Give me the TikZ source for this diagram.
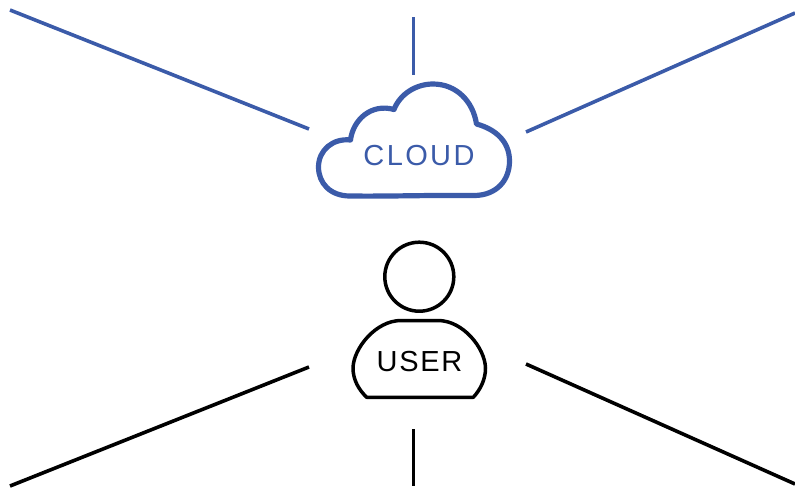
\documentclass[tikz,border=0pt]{standalone}
\usepackage{fontspec}
\setmainfont{Liberation Sans}
\newfontfamily\cloudfont[LetterSpace=8.2]{Liberation Sans}
\newfontfamily\userfont[LetterSpace=5.9]{Liberation Sans}
\definecolor{cloudblue}{HTML}{3B5BA9}
\tikzset{
  bluelink/.style={draw=cloudblue,line width=3.6pt},
  blacklink/.style={draw=black,line width=3.6pt},
  iconblue/.style={draw=cloudblue,line width=5.2pt,line join=round},
  iconblack/.style={draw=black,line width=3.5pt,line join=round},
  lab/.style={inner sep=0pt,anchor=center}
}
\begin{document}
\begin{tikzpicture}[x=1pt,y=-1pt]
\useasboundingbox (0,0) rectangle (795,488);
% free ends
\coordinate (tlA) at (10,10);   \coordinate (tlB) at (309,129);
\coordinate (tmA) at (413.5,17);  \coordinate (tmB) at (413.5,75);
\coordinate (trA) at (795,13);  \coordinate (trB) at (526,132);
\coordinate (blA) at (10,486);  \coordinate (blB) at (309,367);
\coordinate (bmA) at (413.5,429); \coordinate (bmB) at (413.5,486);
\coordinate (brA) at (795,484); \coordinate (brB) at (526,364);
\draw[bluelink] (tlA) -- (tlB);
\draw[bluelink] (tmA) -- (tmB);
\draw[bluelink] (trA) -- (trB);
\draw[blacklink] (blA) -- (blB);
\draw[blacklink] (bmA) -- (bmB);
\draw[blacklink] (brA) -- (brB);
% cloud
\draw[iconblue] (350,196)
  .. controls (330,196) and (318.5,183) .. (318.5,167)
  .. controls (318.5,150) and (333,138) .. (350.5,140)
  .. controls (353,120) and (371,103) .. (394,109.5)
  .. controls (400,94) and (416,84) .. (433,84)
  .. controls (456,84) and (473,101) .. (476.5,124)
  .. controls (495,129) and (509.5,141) .. (509.5,161)
  .. controls (509.5,181) and (496,195) .. (475,195.5)
  .. controls (430,195) and (390,196.5) .. (350,196) -- cycle;
\node[lab,text=cloudblue,font=\cloudfont\fontsize{29}{29}\selectfont] (cloud) at (419,156) {CLOUD};
% user
\node[circle,draw=black,line width=3.5pt,minimum size=69pt,inner sep=0pt] (head) at (419.3,276.7) {};
\draw[iconblack] (366.7,397.3) -- (473.3,397.3)
  .. controls (480,390) and (485.5,380) .. (485.5,368)
  .. controls (485,348) and (463,320.5) .. (438,320.5)
  -- (401,320.5)
  .. controls (376,320.5) and (353.5,348) .. (353,368)
  .. controls (353,380) and (359,390) .. (366.7,397.3) -- cycle;
\node[lab,text=black,font=\userfont\fontsize{29}{29}\selectfont] (user) at (419.5,361.5) {USER};
\end{tikzpicture}
\end{document}
